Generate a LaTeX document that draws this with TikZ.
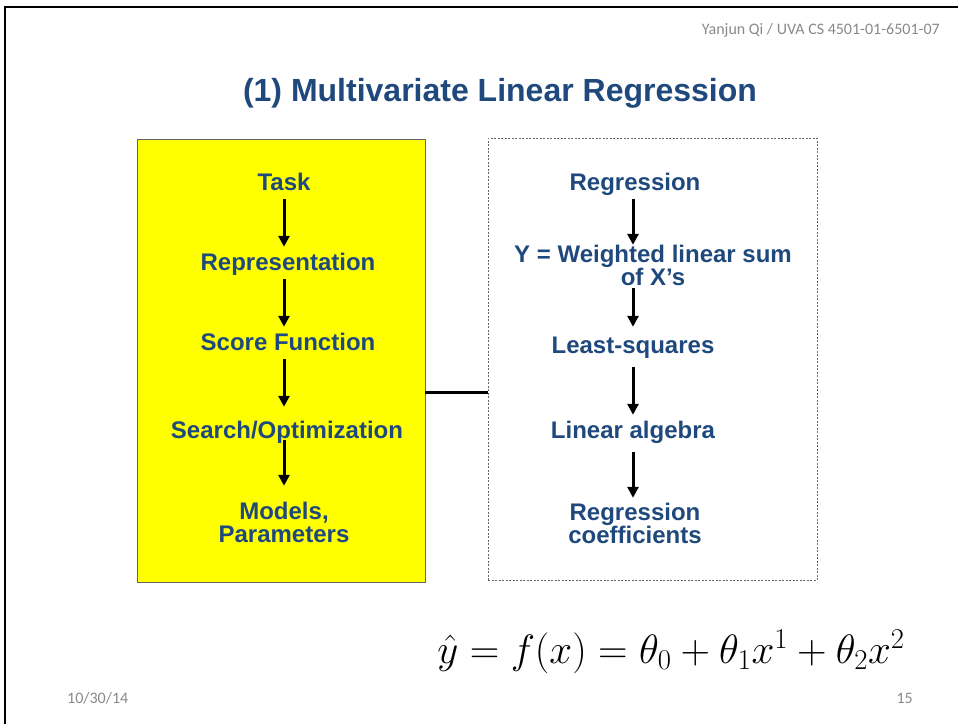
\RequirePackage{fix-cm}
\documentclass[tikz,border=0pt]{standalone}
\usepackage[no-math]{fontspec}
\usepackage{xcolor}
\usepackage{amsmath}
\usetikzlibrary{arrows.meta, positioning}
\newfontfamily\arialfont{Liberation Sans}
\newfontfamily\calibrifont{Carlito}
\definecolor{slideblue}{RGB}{31,73,125}
\definecolor{slidegray}{RGB}{137,137,137}
\definecolor{boxyellow}{RGB}{255,255,0}

\begin{document}
\begin{tikzpicture}[x=1pt,y=-1pt]
        \useasboundingbox (0,0) rectangle (958,724);
        \draw[line width=2.5pt] (5,724) -- (5,7) -- (958,7);
        % slide header, title and footer
        \begin{scope}[every node/.style={inner sep=0pt}]
          \node[anchor=base east, font=\calibrifont\fontsize{16}{18}\selectfont, text=slidegray] (header) at (940,34) {Yanjun Qi / UVA CS 4501-01-6501-07};
          \node[anchor=base, font=\arialfont\bfseries\fontsize{32}{38}\selectfont, text=slideblue] (title) at (500,101) {(1) Multivariate Linear Regression};
          \node[anchor=base west, font=\calibrifont\fontsize{16}{18}\selectfont, text=slidegray] (date) at (67,703) {10/30/14};
          \node[anchor=base east, font=\calibrifont\fontsize{16}{18}\selectfont, text=slidegray] (page) at (913,703) {15};
        \end{scope}
        % the two boxes
        \node[draw=black!60, fill=boxyellow, minimum width=288pt, minimum height=443pt, inner sep=0pt] (pipebox) at (281,360.5) {};
        \node[draw=black!60, dash pattern=on 2pt off 1.5pt, minimum width=329pt, minimum height=442pt, inner sep=0pt] (regbox) at (652.5,359) {};
        \coordinate (joint) at (0,392);
        \draw[line width=3pt] (pipebox.east |- joint) -- (regbox.west |- joint);
        \begin{scope}[every node/.style={text=slideblue, font=\arialfont\bfseries\fontsize{24}{23}\selectfont, align=center, text height=16pt, text depth=5pt, inner ysep=4pt, inner xsep=0pt, anchor=base}]
          \node (task) at (284,190) {Task};
          \node (repr) at (288,270) {Representation};
          \node (score) at (288,350) {Score Function};
          \node (search) at (287,438) {Search/Optimization};
          \node[text height=39pt] (models) at (284,542) {Models,\\Parameters};
          \node (regr) at (635,190) {Regression};
          \node[text height=39pt] (wsum) at (653,285) {Y = Weighted linear sum\\of X’s};
          \node (lsq) at (633,353) {Least-squares};
          \node (linalg) at (633,438) {Linear algebra};
          \node[text height=39pt] (coef) at (635,543) {Regression\\coefficients};
        \end{scope}
        \begin{scope}[every edge/.style={draw=black, line width=3pt, -{Triangle[width=11pt,length=11pt]}}]
          \path (task) edge[shorten >=3pt] (task |- repr.north);
          \path (task |- repr.south) edge[shorten >=3pt] (task |- score.north);
          \path (task |- score.south) edge[shorten >=11pt] (task |- search.north);
          \path (task |- search.south) edge[shorten <=-7pt, shorten >=13pt] (models);
          \path (linalg |- regr.south) edge[shorten >=-3pt] (linalg |- wsum.north);
          \path (linalg |- wsum.south) edge[shorten <=-6pt, shorten >=6pt] (lsq);
          \path (lsq) edge[shorten <=5pt, shorten >=3pt] (linalg);
          \path (linalg) edge[shorten <=5pt, shorten >=2pt] (linalg |- coef.north);
        \end{scope}
        \node[anchor=base, font=\fontsize{41}{48}\selectfont] (eqn) at (671,663) {$\hat{y} = f(x) = \theta_0 + \theta_1 x^1 + \theta_2 x^2$};
      \end{tikzpicture}
\end{document}
